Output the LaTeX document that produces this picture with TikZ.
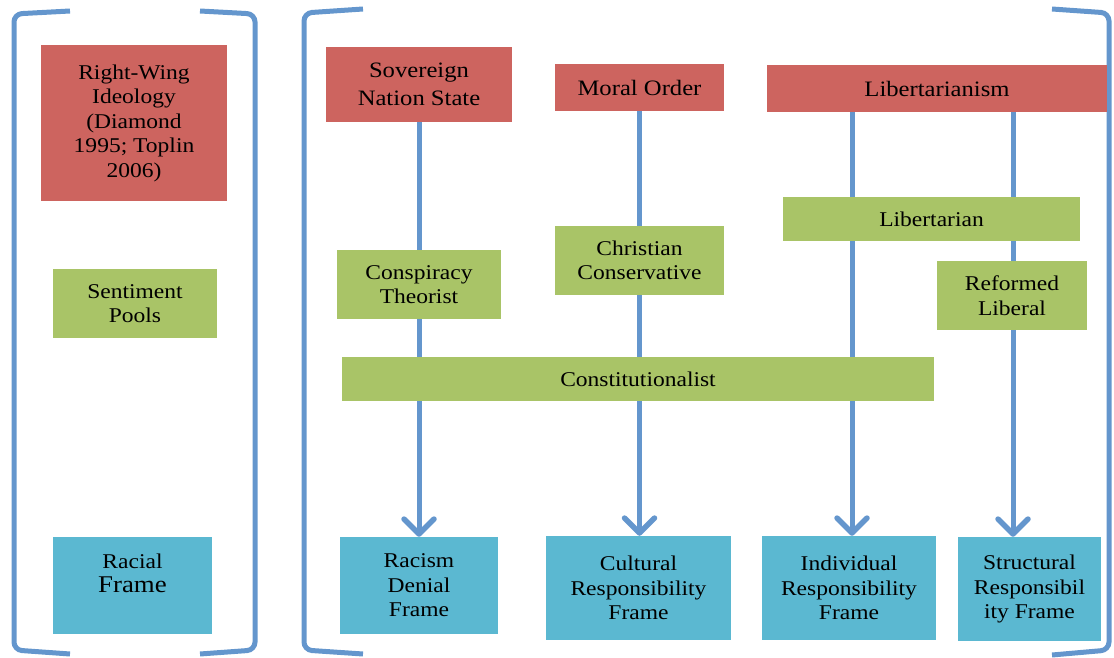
\documentclass[tikz,border=0pt]{standalone}
\usepackage{fontspec}
\setmainfont{Liberation Serif}[FakeStretch=1.12]
\usetikzlibrary{arrows.meta}
\definecolor{hred}{HTML}{CD645F}
\definecolor{sgreen}{HTML}{A9C467}
\definecolor{fblue}{HTML}{5BB8D1}
\definecolor{lblue}{HTML}{6496CD}
\tikzset{
  box/.style={rectangle, inner sep=0pt, align=center, font=\fontsize{21}{24.5}\selectfont},
  ideo/.style={box, fill=hred},
  pool/.style={box, fill=sgreen},
  fbox/.style={box, fill=fblue},
  link/.style={lblue, line width=5pt, -{Straight Barb[length=15pt,width=30pt,line width=5.5pt,round]}},
  brk/.style={lblue, line width=5pt, rounded corners=8pt}
}
\begin{document}
\begin{tikzpicture}[x=1pt,y=-1pt]
\useasboundingbox (0,0) rectangle (1114,658);
% brackets
\draw[brk] (70,11) -- (14,14) -- (14,650) -- (70,654);
\draw[brk] (200,11) -- (255,14) -- (255,650) -- (200,654);
\draw[brk] (363,9) -- (304,13) -- (304,650) -- (363,654);
\draw[brk] (1052,9) -- (1109,13) -- (1109,650) -- (1052,655);
% ideologies
\node[ideo, minimum width=186pt, minimum height=156pt] (rw) at (134,123) {Right-Wing\\Ideology\\(Diamond\\1995; Toplin\\2006)};
\node[ideo, minimum width=186pt, minimum height=75pt, font=\fontsize{22}{28}\selectfont] (sns) at (419,84.5) {Sovereign\\Nation State};
\node[ideo, minimum width=169pt, minimum height=47pt, font=\fontsize{22}{28}\selectfont] (mo) at (639.5,87.5) {Moral Order};
\node[ideo, minimum width=340pt, minimum height=47pt, font=\fontsize{22}{28}\selectfont] (lib) at (937,88.5) {Libertarianism};
% frames
\node[fbox, minimum width=159pt, minimum height=97pt] (rf) at (132.5,585.5) {Racial\\{\fontsize{24}{27}\selectfont Frame}\\\mbox{}};
\node[fbox, minimum width=158pt, minimum height=97pt] (rdf) at (419,585.5) {Racism\\Denial\\Frame};
\node[fbox, minimum width=185pt, minimum height=104pt] (crf) at (638.5,588) {Cultural\\Responsibility\\Frame};
\node[fbox, minimum width=174pt, minimum height=104pt] (irf) at (849,588) {Individual\\Responsibility\\Frame};
\node[fbox, minimum width=143pt, minimum height=104pt] (srf) at (1029.5,589) {Structural\\Responsibil\\ity Frame};
% connectors
\draw[link] (sns.south) -- (rdf.north);
\draw[link] (mo.south) -- (mo.south |- crf.north);
\coordinate (c3) at (852,0);
\coordinate (c4) at (1013,0);
\draw[link] (c3 |- lib.south) -- (c3 |- irf.north);
\draw[link] (c4 |- lib.south) -- (c4 |- srf.north);
% sentiment pools
\node[pool, minimum width=164pt, minimum height=69pt] (sp) at (135,303.5) {Sentiment\\Pools};
\node[pool, minimum width=164pt, minimum height=69pt] (ct) at (419,284.5) {Conspiracy\\Theorist};
\node[pool, minimum width=169pt, minimum height=69pt] (cc) at (639.5,260.5) {Christian\\Conservative};
\node[pool, minimum width=297pt, minimum height=44pt] (lbn) at (931.5,219) {Libertarian};
\node[pool, minimum width=150pt, minimum height=69pt] (rl) at (1012,295.5) {Reformed\\Liberal};
\node[pool, minimum width=592pt, minimum height=44pt] (con) at (638,379) {Constitutionalist};
\end{tikzpicture}
\end{document}
